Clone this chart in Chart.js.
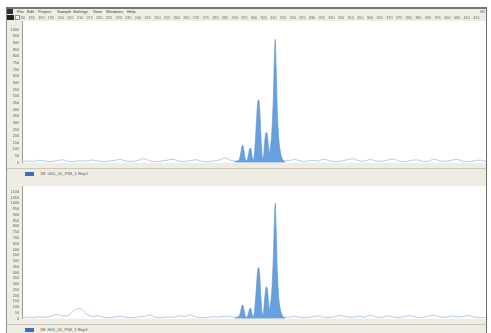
<!DOCTYPE html>
<html>
<head>
<meta charset="utf-8">
<script src="https://cdn.jsdelivr.net/npm/chart.js@4.4.0/dist/chart.umd.min.js"></script>
<style>
  html, body { margin: 0; padding: 0; background: #ffffff; }
  body { width: 491px; height: 333px; position: relative; overflow: hidden; font-family: "Liberation Sans", sans-serif; }
  #win { position: absolute; left: 6px; top: 7px; width: 481px; height: 326px; background: #efede3;
         border-left: 1px solid #8d8d86; border-right: 1px solid #6c6c66; box-sizing: border-box; }
  #titlebar { position: absolute; left: 6px; top: 7px; width: 481px; height: 2px; background: #77766f; }
  .menu { position: absolute; top: 9px; font-size: 4.2px; line-height: 5px; color: #3c3c3c; white-space: nowrap; }
  .icon { position: absolute; }
  canvas { position: absolute; }
  .foot { position: absolute; left: 7px; width: 479px; height: 9px; background: #efede3; border-top: 1px solid #c9c7bb; }
  .foot .sw { position: absolute; left: 18px; top: 3px; width: 9px; height: 4px; background: #3f6fb8; }
  .foot .lbl { position: absolute; left: 33px; top: 2px; font-size: 4.2px; line-height: 5px; color: #555; white-space: nowrap; }
</style>
</head>
<body>
<div id="win"></div>
<div id="titlebar"></div>

<div class="icon" style="left:7px;top:9px;width:6px;height:5px;background:#2e2e33;"></div>
<div class="icon" style="left:7px;top:15px;width:7px;height:5px;background:#1f1f24;"></div>
<div class="icon" style="left:15px;top:15px;width:5px;height:5px;background:#fbfbf7;border:1px solid #9a9a92;box-sizing:border-box;"></div>
<div class="icon" style="left:480px;top:10px;width:5px;height:3px;background:#b9b8ae;"></div>

<span class="menu" style="left:17px;">File</span>
<span class="menu" style="left:27px;">Edit</span>
<span class="menu" style="left:38px;">Project</span>
<span class="menu" style="left:57px;">Sample</span>
<span class="menu" style="left:73px;">Settings</span>
<span class="menu" style="left:93px;">View</span>
<span class="menu" style="left:106px;">Windows</span>
<span class="menu" style="left:127px;">Help</span>

<canvas id="topChart" width="481" height="154" style="left:5px;top:14px;"></canvas>
<div class="foot" style="top:168px;"><div class="sw"></div><div class="lbl">1B: G01_01_P58_1 Rep1</div></div>
<canvas id="bottomChart" width="481" height="145" style="left:5px;top:179px;"></canvas>
<div class="foot" style="top:324px;"><div class="sw"></div><div class="lbl">1B: H01_01_P58_1 Rep1</div></div>

<script>
// Fragment size (bp) positions of the baseline trace samples
const noiseBp = [180,183,186,189,192,195,198,201,204,207,210,213,216,219,222,225,228,
  231,234,237,240,243,246,249,252,255,258,261,264,267,270,273,276,279,
  282,285,288,291,294,297,300,303,306,309,312,315,318,321,324,327,330,
  333,336,339,342,345,348,351,354,357,360,363,366,369,372,375,378,381,
  384,387,390,393,396,399,402,405,408,411,414,417,420];

// Baseline noise, upper sample (RFU)
const topNoise = [8,14,10,18,12,9,15,22,11,8,16,12,20,14,9,13,18,
  24,12,10,17,30,14,9,12,19,26,13,10,15,22,11,9,14,
  20,36,18,12,10,10,10,10,10,10,10,12,16,24,14,10,18,
  12,26,15,9,13,21,30,16,11,24,14,10,19,28,13,9,16,
  22,12,10,27,15,11,18,25,12,9,14,20,10];

// Baseline noise, lower sample (RFU)
const bottomNoise = [10,14,9,18,12,22,38,24,30,72,90,48,20,26,14,10,16,
  22,12,10,15,20,32,14,9,16,12,26,20,34,14,10,12,18,
  14,22,20,10,10,10,10,10,10,10,10,12,14,22,12,10,16,
  24,13,10,20,28,16,12,22,14,30,18,11,24,16,10,20,26,
  14,10,22,30,18,12,24,16,20,28,14,10,12];

// Fragment size (bp) positions across the called peak cluster
const peakBp = [290,290.5,291,291.5,292,292.5,293,293.5,294,294.5,
  295,295.5,296,296.5,297,297.5,298,298.5,299,299.5,
  300,300.5,301,301.5,302,302.5,303,303.5,304,304.5,
  305,305.5,306,306.5,307,307.5,308,308.5,309,309.5,
  310,310.5,311,311.5,312,312.5,313,313.5,314,314.5,
  315,315.5,316];

// Peak cluster heights, upper sample (RFU)
const topPeaks = [10,10,11,13,16,30,60,105,130,118,
  70,28,14,22,50,90,111,98,50,20,
  40,120,240,370,455,473,390,230,90,28,
  60,150,215,227,195,120,75,120,190,310,
  490,760,927,700,420,250,150,95,58,34,
  20,13,10];

// Peak cluster heights, lower sample (RFU)
const bottomPeaks = [10,10,12,14,18,30,55,95,119,108,
  62,24,12,18,40,72,90,80,40,16,
  35,110,220,340,425,444,370,215,80,26,
  70,170,250,278,245,150,80,125,200,330,
  540,820,1000,760,450,260,150,92,55,32,
  18,12,10];

// Size ruler labels
const rulerTicks = [180,185,190,195,200,205,210,215,220,225,230,235,240,245,250,255,
  260,265,270,275,280,285,290,295,300,305,310,315,320,325,330,335,340,345,350,355,
  360,365,370,375,380,385,390,395,400,405,410,415];

// Intensity axis labels, one list per panel
const topYTicks = [0,50,100,150,200,250,300,350,400,450,500,550,600,650,700,750,800,850,900,950,1000];
const bottomYTicks = [0,50,100,150,200,250,300,350,400,450,500,550,600,650,700,750,800,850,900,950,1000,1050,1100];

const xMin = 180, xMax = 420;

const pairs = (xs, ys) => xs.map((x, i) => ({ x: x, y: ys[i] }));

// White plotting field behind the traces
const plotBg = {
  id: 'plotBg',
  beforeDraw(chart) {
    const { ctx, chartArea: a } = chart;
    ctx.save();
    ctx.fillStyle = '#ffffff';
    ctx.fillRect(a.left, a.top, a.right - a.left, a.bottom - a.top);
    ctx.restore();
  }
};

function makePanel(id, noise, peaks, yMax, yTicks, showRuler) {
  return new Chart(document.getElementById(id), {
    type: 'line',
    data: {
      datasets: [
        {
          data: pairs(peakBp, peaks),
          borderColor: '#5a93d4',
          borderWidth: 0.6,
          backgroundColor: '#67a0de',
          fill: 'origin',
          pointRadius: 0,
          cubicInterpolationMode: 'monotone',
          order: 0
        },
        {
          data: pairs(noiseBp, noise),
          borderColor: '#a8c5ea',
          borderWidth: 0.9,
          fill: false,
          pointRadius: 0,
          tension: 0.35,
          order: 1
        }
      ]
    },
    options: {
      responsive: false,
      devicePixelRatio: 1,
      animation: false,
      events: [],
      layout: { padding: 0 },
      plugins: { legend: { display: false }, tooltip: { enabled: false } },
      scales: {
        x: {
          type: 'linear',
          position: 'top',
          min: xMin,
          max: xMax,
          display: showRuler,
          grid: { display: false, drawTicks: false, tickLength: 0 },
          border: { display: false },
          afterBuildTicks: (s) => { s.ticks = rulerTicks.map(v => ({ value: v })); },
          afterFit: (s) => { s.height = 7; },
          ticks: {
            autoSkip: false,
            maxRotation: 0,
            padding: 1,
            color: '#6a6a66',
            callback: (v) => String(v),
            font: { size: 3.8, family: 'Liberation Sans' }
          }
        },
        y: {
          min: 0,
          max: yMax,
          grid: { display: false, drawTicks: false, tickLength: 0 },
          border: { display: true, color: '#9c9c95', width: 1 },
          afterBuildTicks: (s) => { s.ticks = yTicks.map(v => ({ value: v })); },
          afterFit: (s) => { s.width = 17; },
          ticks: {
            autoSkip: false,
            padding: 3,
            color: '#5e5e5a',
            callback: (v) => String(v),
            font: { size: 3.8, family: 'Liberation Sans' }
          }
        }
      }
    },
    plugins: [plotBg]
  });
}

makePanel('topChart', topNoise, topPeaks, 1065, topYTicks, true);
makePanel('bottomChart', bottomNoise, bottomPeaks, 1150, bottomYTicks, false);
</script>
</body>
</html>
